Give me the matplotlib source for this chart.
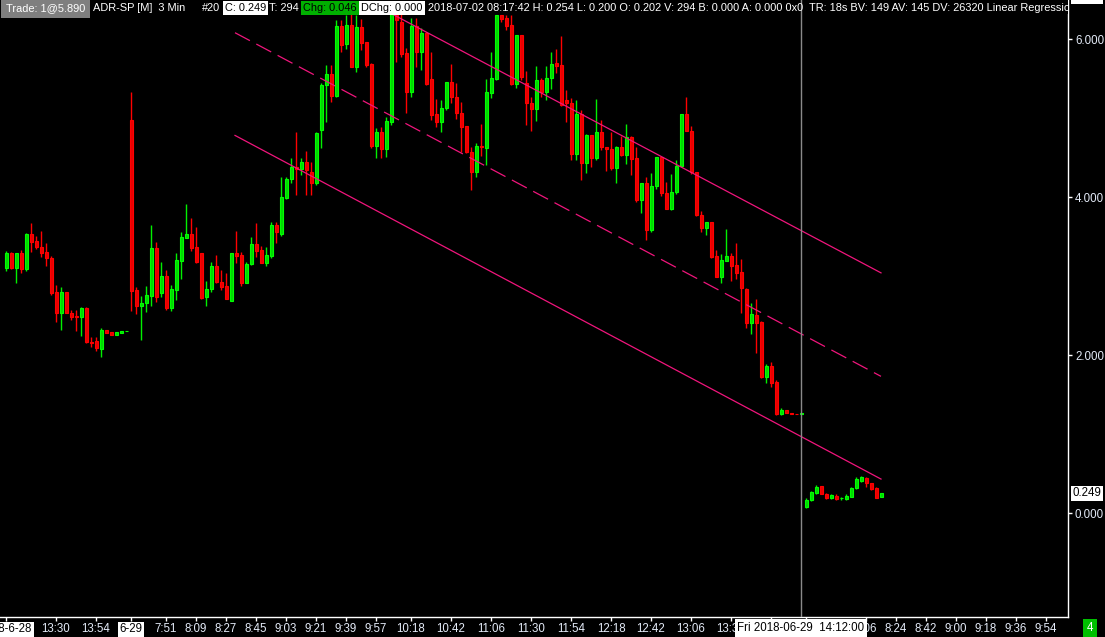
import numpy as np
import matplotlib.pyplot as plt
from matplotlib.patches import Rectangle

plt.rcParams['font.family'] = ['Liberation Sans', 'DejaVu Sans']

# ADR-SP 3 min bars: 6-28 (13:00-), 6-29 (7:30-14:12), 7-02 (7:30-)
opens = [
    # 6-28
    3.10, 3.29, 3.10, 3.29, 3.09, 3.53, 3.44, 3.37, 3.30, 3.23,
    2.80, 2.53, 2.80, 2.53, 2.49, 2.48, 2.60, 2.16, 2.18, 2.08,
    2.32, 2.29, 2.25, 2.28, 2.30,
    # 6-29
    4.97, 2.82, 2.62, 2.66, 2.75, 3.35, 2.78, 3.00, 2.60, 2.82,
    3.19, 3.48, 3.53, 3.37, 3.29, 2.73, 2.84, 3.13, 2.92, 2.87,
    2.68, 3.29, 3.27, 2.91, 3.15, 3.41, 3.33, 3.16, 3.25, 3.65,
    3.53, 3.99, 4.23, 4.38, 4.35, 4.44, 4.32, 4.18, 4.85, 5.42,
    5.56, 5.28, 6.16, 5.94, 6.18, 5.65, 6.15, 5.96, 5.68, 4.65,
    4.82, 4.61, 4.95, 6.30, 6.22, 5.82, 5.33, 6.16, 5.84, 6.08,
    5.49, 5.05, 4.95, 5.13, 5.46, 5.27, 5.06, 4.90, 4.57, 4.32,
    4.65, 4.62, 5.32, 5.49, 6.30, 6.27, 6.18, 5.43, 6.05, 5.44,
    5.19, 5.11, 5.48, 5.33, 5.51, 5.70, 5.67, 5.23, 5.19, 4.54,
    5.05, 4.43, 4.78, 4.49, 4.82, 4.63, 4.61, 4.37, 4.63, 4.53,
    4.76, 4.49, 3.96, 4.18, 3.58, 4.14, 4.51, 4.05, 3.85, 4.06,
    4.39, 5.05, 4.84, 4.32, 3.77, 3.61, 3.68, 3.25, 2.99, 3.19,
    3.25, 3.14, 3.05, 2.84, 2.41, 2.51, 2.42, 1.72, 1.86, 1.66,
    1.25, 1.30, 1.27, 1.255, 1.25,
    # 7-02
    0.08, 0.16, 0.25, 0.34, 0.24, 0.19, 0.22, 0.19, 0.18, 0.20,
    0.32, 0.41, 0.44, 0.38, 0.32, 0.202,
]
highs = [
    3.32, 3.30, 3.29, 3.33, 3.54, 3.67, 3.51, 3.57, 3.42, 3.25,
    2.89, 2.86, 2.80, 2.57, 2.57, 2.61, 2.61, 2.23, 2.23, 2.34,
    2.32, 2.29, 2.29, 2.30, 2.30,
    5.33, 2.86, 2.75, 2.87, 3.65, 3.43, 3.18, 3.08, 2.89, 3.29,
    3.56, 3.91, 3.73, 3.62, 3.29, 2.94, 3.18, 3.27, 3.08, 3.04,
    3.29, 3.57, 3.30, 3.18, 3.49, 3.67, 3.38, 3.37, 3.68, 3.68,
    4.25, 4.25, 4.49, 4.82, 4.49, 4.58, 4.44, 4.82, 5.44, 5.67,
    5.67, 6.24, 6.24, 6.30, 6.37, 6.30, 6.25, 5.96, 5.70, 4.87,
    4.89, 5.01, 6.43, 6.33, 6.33, 5.89, 6.27, 6.27, 6.14, 6.09,
    5.84, 5.24, 5.23, 5.46, 5.68, 5.44, 5.20, 4.90, 4.63, 4.68,
    4.92, 5.49, 5.84, 6.30, 6.30, 6.30, 6.30, 6.05, 6.05, 5.59,
    5.27, 5.66, 5.51, 5.66, 5.84, 5.87, 6.04, 5.35, 5.25, 5.23,
    5.10, 4.80, 4.78, 5.24, 4.97, 4.63, 4.82, 4.65, 4.77, 4.92,
    4.77, 4.63, 4.18, 4.25, 4.30, 4.51, 4.51, 4.19, 4.29, 4.47,
    5.05, 5.27, 4.90, 4.32, 3.82, 3.68, 3.68, 3.33, 3.28, 3.59,
    3.29, 3.42, 3.22, 2.85, 2.66, 2.71, 2.43, 1.89, 1.91, 1.68,
    1.33, 1.30, 1.27, 1.255, 1.265,
    0.19, 0.28, 0.35, 0.34, 0.25, 0.24, 0.24, 0.20, 0.24, 0.33,
    0.46, 0.47, 0.46, 0.38, 0.33, 0.254,
]
lows = [
    3.06, 3.09, 2.91, 3.04, 3.06, 3.30, 3.34, 3.24, 3.13, 2.76,
    2.42, 2.32, 2.53, 2.44, 2.30, 2.24, 2.15, 2.10, 2.05, 1.97,
    2.28, 2.25, 2.25, 2.28, 2.30,
    2.56, 2.52, 2.19, 2.54, 2.62, 2.67, 2.73, 2.57, 2.56, 2.70,
    2.96, 3.48, 3.32, 3.16, 2.71, 2.62, 2.80, 2.91, 2.82, 2.71,
    2.68, 3.16, 2.87, 2.91, 3.14, 3.24, 3.16, 3.13, 3.23, 3.42,
    3.51, 3.97, 4.18, 4.03, 4.28, 4.03, 4.03, 4.15, 4.62, 4.95,
    5.20, 5.27, 5.84, 5.87, 5.65, 5.58, 5.86, 5.65, 4.62, 4.49,
    4.49, 4.51, 4.91, 5.71, 5.77, 5.06, 5.27, 5.65, 5.61, 5.42,
    4.97, 4.89, 4.82, 5.10, 5.19, 4.99, 4.57, 4.56, 4.09, 4.25,
    4.52, 4.41, 5.25, 5.48, 6.22, 6.11, 5.42, 5.38, 5.48, 4.91,
    4.84, 4.96, 5.27, 5.23, 5.37, 5.57, 5.15, 4.95, 4.47, 4.47,
    4.22, 4.30, 4.38, 4.47, 4.59, 4.33, 4.34, 4.18, 4.52, 4.42,
    4.28, 3.94, 3.80, 3.46, 3.56, 4.10, 4.01, 3.85, 3.84, 4.04,
    4.39, 4.84, 4.29, 3.76, 3.56, 3.52, 3.23, 2.99, 2.91, 3.19,
    2.94, 2.96, 2.53, 2.34, 2.27, 2.03, 1.71, 1.65, 1.59, 1.24,
    1.24, 1.27, 1.25, 1.25, 1.25,
    0.06, 0.15, 0.24, 0.24, 0.18, 0.18, 0.16, 0.16, 0.16, 0.20,
    0.30, 0.39, 0.33, 0.29, 0.19, 0.200,
]
closes = [
    3.29, 3.10, 3.29, 3.09, 3.53, 3.43, 3.37, 3.29, 3.23, 2.78,
    2.53, 2.80, 2.53, 2.48, 2.48, 2.60, 2.16, 2.155, 2.09, 2.32,
    2.28, 2.25, 2.29, 2.30, 2.305,
    2.81, 2.62, 2.66, 2.76, 3.35, 2.73, 3.00, 2.60, 2.84, 3.20,
    3.49, 3.53, 3.35, 3.18, 2.72, 2.84, 3.13, 2.92, 2.86, 2.71,
    3.29, 3.25, 2.91, 3.15, 3.41, 3.32, 3.16, 3.27, 3.65, 3.56,
    4.00, 4.23, 4.38, 4.35, 4.44, 4.34, 4.18, 4.81, 5.42, 5.56,
    5.28, 6.16, 5.92, 6.18, 5.65, 6.15, 5.95, 5.67, 4.65, 4.82,
    4.61, 4.96, 6.37, 6.24, 5.81, 5.33, 6.16, 5.84, 6.08, 5.43,
    5.04, 4.95, 5.13, 5.46, 5.27, 5.06, 4.89, 4.57, 4.32, 4.65,
    4.63, 5.33, 5.51, 6.30, 6.25, 6.16, 5.43, 6.05, 5.52, 5.19,
    5.11, 5.48, 5.33, 5.51, 5.68, 5.66, 5.16, 5.19, 4.54, 5.05,
    4.43, 4.78, 4.49, 4.82, 4.63, 4.61, 4.37, 4.63, 4.53, 4.76,
    4.48, 3.96, 4.18, 3.58, 4.14, 4.51, 4.05, 3.85, 4.06, 4.39,
    5.05, 4.84, 4.32, 3.77, 3.61, 3.68, 3.24, 2.99, 3.20, 3.25,
    3.13, 3.04, 2.85, 2.41, 2.52, 2.41, 1.72, 1.86, 1.65, 1.25,
    1.30, 1.27, 1.25, 1.25, 1.265,
    0.16, 0.27, 0.33, 0.24, 0.19, 0.23, 0.18, 0.195, 0.22, 0.32,
    0.43, 0.46, 0.38, 0.30, 0.19, 0.249,
]

# linear regression channel (bar index, price)
reg_x = [45.8, 175]
reg_mid = [6.08, 1.73]
reg_upper = [7.37, 3.04]
reg_lower = [4.78, 0.43]

# sessions: date label, first bar time, first bar index, time labels
sessions = [
    ("2018-6-28", "13:00", 0, ["13:30", "13:54"]),
    ("6-29", "7:30", 25, ["7:51", "8:09", "8:27", "8:45", "9:03", "9:21", "9:39",
                          "9:57", "10:18", "10:42", "11:06", "11:30", "11:54",
                          "12:18", "12:42", "13:06", "13:30", "13:54"]),
    ("7-02", "7:30", 160, ["8:06", "8:24", "8:42", "9:00", "9:18", "9:36", "9:54"]),
]

header = [
    ("Trade: 1@5.890", "white", "#7f7f7f"),
    ("ADR-SP [M]  3 Min", "white", None),
    ("#20", "white", None),
    ("C: 0.249", "black", "white"),
    ("T: 294", "white", None),
    ("Chg: 0.046", "black", "#00b000"),
    ("DChg: 0.000", "black", "white"),
    ("2018-07-02 08:17:42 H: 0.254 L: 0.200 O: 0.202 V: 294 B: 0.000 A: 0.000 0x0 "
     " TR: 18s BV: 149 AV: 145 DV: 26320 Linear Regression", "white", None),
]
header_px = [6, 93, 202, 225, 269, 303, 361, 428]

cursor_bar = 159
cursor_text = "Fri 2018-06-29  14:12:00"
last_price = 0.249
top_price = 6.490


def minutes(hhmm):
    h, m = hhmm.split(":")
    return int(h) * 60 + int(m)


o = np.array(opens)
h = np.array(highs)
l = np.array(lows)
c = np.array(closes)
x = np.arange(len(o))
up = c >= o

W, H = 1105, 637
fig = plt.figure(figsize=(W / 100, H / 100), dpi=100, facecolor="black")
ax = fig.add_axes([0, 20 / H, 1068 / W, 617 / H])
ax.set_facecolor("black")
ax.set_xlim(-1.2, 212.4)
ax.set_ylim(-1.316, 6.494)

# candles
wick_col = np.where(up, "#00f000", "#ff0000")
ax.vlines(x, l, h, colors=wick_col, lw=1.0, zorder=2)
ax.bar(x[up], (c - o)[up], bottom=o[up], width=0.6, color="#00d800",
       edgecolor="#00ff00", linewidth=0.8, zorder=2.2)
ax.bar(x[~up], (o - c)[~up], bottom=c[~up], width=0.6, color="#e80000",
       edgecolor="#ff0000", linewidth=0.8, zorder=2.2)

# regression channel
rc = "#f0157c"
ax.plot(reg_x, reg_mid, color=rc, lw=0.9, dashes=(13.5, 5.8), zorder=3)
ax.plot(reg_x, reg_upper, color=rc, lw=0.9, zorder=3)
ax.plot(reg_x, reg_lower, color=rc, lw=0.9, zorder=3)

# header strip
ax.add_patch(Rectangle((0, 1 - 14 / 617), 1, 14 / 617, transform=ax.transAxes,
                       facecolor="black", edgecolor="none", zorder=4))
ax.axvline(cursor_bar, color="#8a8a8a", lw=1.0, zorder=5)
for i, ((txt, fg, bg), px) in enumerate(zip(header, header_px)):
    pad = 0.45 if i == 0 else 0.2
    bb = dict(boxstyle=f"square,pad={pad}", facecolor=bg, edgecolor="none") if bg else None
    ax.text(px / 1068, 1 - 8 / 617, txt, transform=ax.transAxes, ha="left", va="center",
            color=fg, fontsize=7.9, bbox=bb, zorder=6, clip_on=True)

# spines
for s in ["left", "top"]:
    ax.spines[s].set_visible(False)
for s in ["right", "bottom"]:
    ax.spines[s].set_color("white")
    ax.spines[s].set_linewidth(1.0)

# y axis on the right
ax.yaxis.tick_right()
yt = [0, 2, 4, 6]
ax.set_yticks(yt)
ax.set_yticklabels([f"{v:.3f}" for v in yt])
ax.tick_params(axis="y", colors="white", labelcolor="#e4ebf8", length=3, width=1,
               labelsize=8.3, pad=2, direction="out")

# x axis time labels
pos, labs = [], []
for date, start, first, times in sessions:
    pos.append(first)
    labs.append(date)
    for t in times:
        pos.append(first + (minutes(t) - minutes(start)) / 3)
        labs.append(t)
ax.set_xticks(pos)
ax.set_xticklabels(labs)
ax.tick_params(axis="x", colors="white", labelcolor="#e4ebf8", length=3, width=1,
               labelsize=8.3, pad=1.5, direction="out")
for lbl in ax.get_xticklabels():
    if "-" in lbl.get_text():
        lbl.set_color("black")
        lbl.set_bbox(dict(boxstyle="square,pad=0.15", facecolor="white", edgecolor="none"))

# cursor time box
ax.text(cursor_bar, -11 / 617, cursor_text, transform=ax.get_xaxis_transform(),
        ha="center", va="center", color="black", fontsize=8.3, clip_on=False,
        bbox=dict(boxstyle="square,pad=0.25", facecolor="white", edgecolor="none"), zorder=10)

# price boxes on the right axis
for p in [last_price, top_price]:
    ax.text(1.004, p if p != top_price else p + 0.045, f"{p:.3f}",
            transform=ax.get_yaxis_transform(), ha="left", va="center", color="black",
            fontsize=8.3, clip_on=False,
            bbox=dict(boxstyle="square,pad=0.15", facecolor="white", edgecolor="none"), zorder=10)

fig.text(1090 / W, 1 - 628 / H, "4", ha="center", va="center", color="white", fontsize=8.3,
         bbox=dict(boxstyle="square,pad=0.3", facecolor="#00c000", edgecolor="none"))

fig.savefig("out.png", dpi=100, facecolor="black")
